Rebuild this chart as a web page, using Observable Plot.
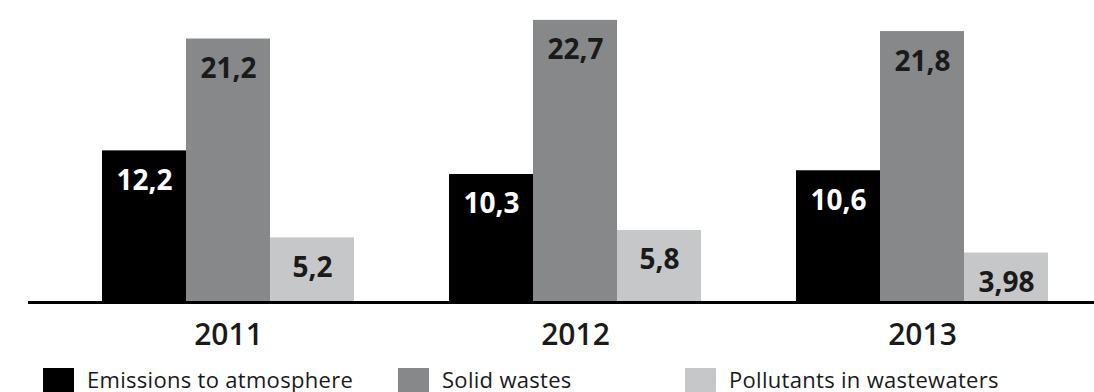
<!DOCTYPE html>
<html>
<head>
<meta charset="utf-8">
<script src="https://cdn.jsdelivr.net/npm/d3@7"></script>
<script src="https://cdn.jsdelivr.net/npm/@observablehq/plot@0.6"></script>
<style>
  html, body { margin: 0; padding: 0; background: #fff; overflow: hidden; }
  body { width: 1094px; height: 392px; font-family: "Open Sans", sans-serif; }
  #chart svg { display: block; }
  .legend { display: grid; grid-template-columns: 355px 287px auto; padding-left: 43px; margin-top: 6px; }
  .item { display: flex; align-items: flex-start; font-size: 22px; color: #1a1a1a; }
  .sw { width: 31px; height: 30px; margin-right: 13px; flex: none; }
  .item span.t { line-height: 22px; margin-top: 0px; letter-spacing: 0.3px; }
</style>
</head>
<body>
<div id="chart"></div>
<div class="legend" id="legend"></div>
<script>
const years = ["2011", "2012", "2013"];
const series = ["Emissions to atmosphere", "Solid wastes", "Pollutants in wastewaters"];
const emissions = [12.2, 10.3, 10.6];
const solidWastes = [21.2, 22.7, 21.8];
const pollutants = [5.2, 5.8, 3.98];
const colors = ["#000000", "#87888a", "#c6c7c9"];

const seriesValues = [emissions, solidWastes, pollutants];
const data = [];
years.forEach((year, i) => {
  series.forEach((s, j) => {
    data.push({year, series: s, value: seriesValues[j][i]});
  });
});
const fmt = v => String(v).replace(".", ",");

const chart = Plot.plot({
  width: 1094,
  height: 362,
  marginTop: 0,
  marginBottom: 60,
  marginLeft: 56,
  marginRight: 0,
  fx: {domain: years, paddingInner: 0.274, paddingOuter: 0.1326, label: null, axis: null},
  x: {domain: series, padding: 0, axis: null},
  y: {domain: [0, 24.3], axis: null},
  color: {domain: series, range: colors},
  style: {fontFamily: "'Open Sans', sans-serif", background: "#fff"},
  marks: [
    Plot.barY(data, {fx: "year", x: "series", y: "value", fill: "series", inset: 0}),
    Plot.text(data.filter(d => d.series === series[0]), {
      fx: "year", x: "series", y: "value", text: d => fmt(d.value),
      dy: 30, fill: "#ffffff", fontSize: 28, fontWeight: 700
    }),
    Plot.text(data.filter(d => d.series !== series[0]), {
      fx: "year", x: "series", y: "value", text: d => fmt(d.value),
      dy: 30, fill: "#1a1a1a", fontSize: 28, fontWeight: 700
    }),
    Plot.ruleY([0], {stroke: "#000", strokeWidth: 3, insetLeft: -74, insetRight: -48}),
    Plot.axisFx({anchor: "bottom", tickSize: 0, tickPadding: 21, fontSize: 30, fontWeight: 600, fill: "#1a1a1a", label: null})
  ]
});
document.getElementById("chart").appendChild(chart);

const legend = document.getElementById("legend");
series.forEach((s, j) => {
  const item = document.createElement("div");
  item.className = "item";
  const sw = document.createElement("div");
  sw.className = "sw";
  sw.style.background = colors[j];
  const t = document.createElement("span");
  t.className = "t";
  t.textContent = s;
  item.appendChild(sw);
  item.appendChild(t);
  legend.appendChild(item);
});
</script>
</body>
</html>
